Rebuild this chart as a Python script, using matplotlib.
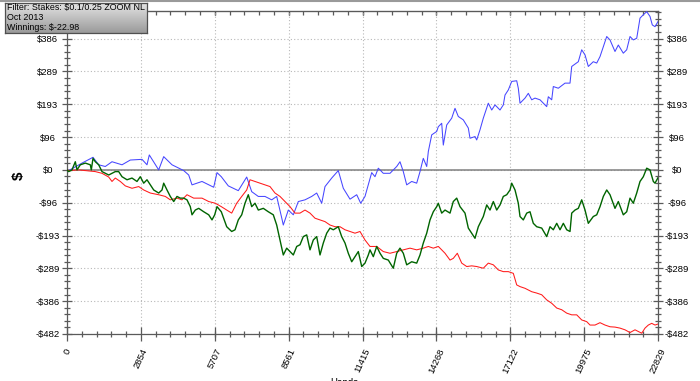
import numpy as np
import matplotlib
matplotlib.use("Agg")
import matplotlib.pyplot as plt
from matplotlib.ticker import AutoMinorLocator, FixedLocator
from matplotlib.lines import Line2D

# --- data (hands, $) ---
blue_hands = [0, 66, 579, 1004, 1225, 1479, 1738, 2125, 2445, 2897, 3090, 3179, 3542, 3735, 4056,
              4508, 4701, 4829, 5215, 5667, 5794, 5960, 6231, 6617, 6942, 7135, 7390, 7648, 7907,
              8100, 8294, 8355, 8549, 8742, 8935, 9193, 9452, 9645, 9839, 9966, 10225, 10480,
              10673, 10932, 11191, 11345, 11511, 11770, 11897, 12025, 12218, 12477, 12736, 12863,
              12991, 13122, 13315, 13508, 13636, 13763, 13895, 13957, 14088, 14281, 14343, 14474,
              14536, 14667, 14860, 14988, 15115, 15308, 15502, 15567, 15760, 15826, 15954, 16081,
              16274, 16406, 16533, 16726, 16854, 16919, 17047, 17178, 17371, 17433, 17499, 17692,
              17820, 17951, 18078, 18271, 18530, 18592, 18723, 18785, 18978, 19237, 19430, 19496,
              19751, 19882, 20010, 20137, 20330, 20462, 20589, 20717, 20848, 20975, 21168, 21296,
              21489, 21620, 21748, 21875, 22007, 22134, 22262, 22393, 22520, 22609, 22714, 22829]
blue_won = [0, -2, 20, 37, 15, 10, 24, 15, 29, 31, 15, 44, 0, 39, 15,
            -2, -15, -44, -34, -51, -8, -20, -47, -61, -21, -64, -78, -78, -88,
            -78, -141, -162, -118, -132, -93, -88, -78, -68, -98, -49, -24, -2,
            -54, -86, -73, -98, -78, -8, -20, 5, -10, -10, 10, 24,
            -5, -44, -34, -39, -5, 34, 10, 54, 103, 113, 127, 137,
            73, 132, 152, 181, 157, 147, 123, 93, 98, 88, 118, 152,
            196, 176, 191, 176, 191, 220, 235, 260, 262, 240, 196, 211,
            225, 206, 211, 206, 186, 215, 206, 245, 240, 255, 255, 304,
            318, 353, 338, 304, 318, 314, 333, 362, 392, 382, 348, 367,
            343, 353, 392, 382, 387, 446, 456, 465, 451, 426, 421, 436]

green_hands = [0, 66, 193, 321, 386, 514, 707, 900, 939, 1004, 1093, 1225, 1352, 1479, 1611, 1738,
               1866, 1997, 2125, 2318, 2511, 2704, 2831, 2963, 3090, 3218, 3349, 3542, 3670, 3735,
               3863, 3990, 4122, 4249, 4377, 4508, 4635, 4763, 4829, 4956, 5087, 5281, 5474, 5601,
               5705, 5794, 5960, 6169, 6362, 6490, 6617, 6749, 6876, 7003, 7135, 7262, 7390, 7583,
               7776, 7969, 8100, 8228, 8355, 8487, 8614, 8742, 8873, 9000, 9128, 9259, 9387, 9514,
               9645, 9773, 9900, 10032, 10159, 10287, 10480, 10611, 10739, 10866, 10998, 11125,
               11253, 11384, 11511, 11639, 11704, 11832, 11963, 12091, 12218, 12411, 12604, 12736,
               12863, 12991, 13122, 13315, 13508, 13636, 13763, 13895, 14022, 14150, 14281, 14343,
               14474, 14602, 14795, 14922, 15054, 15181, 15374, 15502, 15633, 15760, 15888, 16081,
               16213, 16340, 16468, 16599, 16726, 16854, 16985, 17113, 17178, 17306, 17433, 17499,
               17626, 17758, 17885, 18012, 18144, 18337, 18530, 18658, 18785, 18917, 19044, 19172,
               19303, 19430, 19496, 19623, 19751, 19882, 20010, 20137, 20330, 20462, 20589, 20717,
               20848, 20975, 21168, 21296, 21489, 21620, 21748, 21875, 22007, 22134, 22262, 22393,
               22520, 22648, 22714, 22829]
green_won = [0, -5, 0, 24, 0, 15, 20, 15, 0, 34, 24, 15, -5, -10, -15, -10,
             -5, -5, -20, -29, -24, -34, -20, -39, -29, -44, -59, -68, -59, -39,
             -59, -78, -93, -78, -83, -83, -88, -108, -132, -118, -113, -123, -132, -147,
             -132, -108, -123, -167, -181, -176, -147, -132, -98, -73, -108, -98, -118, -113,
             -123, -132, -162, -206, -250, -230, -240, -250, -225, -220, -196, -191, -235, -206,
             -196, -250, -215, -186, -171, -176, -167, -196, -215, -245, -270, -255,
             -240, -284, -274, -250, -235, -255, -225, -245, -260, -265, -289, -245,
             -230, -245, -279, -270, -274, -250, -215, -186, -147, -123, -108, -98,
             -127, -118, -127, -93, -83, -108, -127, -171, -186, -201, -167, -137,
             -103, -118, -93, -118, -103, -78, -73, -59, -39, -59, -98, -137,
             -147, -127, -123, -157, -167, -171, -196, -167, -176, -157, -176, -157,
             -176, -181, -127, -118, -113, -88, -118, -157, -137, -132, -108, -78,
             -59, -73, -113, -93, -132, -123, -83, -98, -68, -34, -20, 5,
             0, -34, -39, -22.98]

red_hands = [0, 66, 452, 838, 1093, 1352, 1611, 1738, 1866, 2059, 2252, 2511, 2770, 2963, 3218,
             3542, 3797, 3990, 4249, 4442, 4635, 4894, 5215, 5474, 5729, 5960, 6169, 6362, 6555,
             6749, 6942, 7069, 7262, 7455, 7648, 7842, 8035, 8228, 8421, 8614, 8807, 9000, 9193,
             9387, 9580, 9773, 9966, 10159, 10352, 10545, 10739, 10932, 11125, 11318, 11511,
             11704, 11963, 12218, 12477, 12736, 12991, 13250, 13508, 13763, 13957, 14150, 14343,
             14474, 14602, 14795, 14922, 15077, 15247, 15440, 15633, 15826, 16081, 16274, 16468,
             16661, 16854, 17047, 17240, 17371, 17499, 17692, 17951, 18144, 18337, 18530, 18723,
             18917, 19110, 19303, 19496, 19689, 19882, 20075, 20203, 20396, 20589, 20782, 20975,
             21168, 21361, 21554, 21748, 21941, 22200, 22327, 22455, 22586, 22714, 22829]
red_won = [0, -2, 0, -3, -5, -10, -21, -34, -24, -34, -47, -54, -49, -59, -68,
           -73, -78, -88, -83, -88, -73, -83, -83, -93, -98, -108, -118, -127, -98,
           -78, -59, -29, -34, -39, -44, -49, -68, -78, -93, -108, -127, -127, -118,
           -127, -142, -147, -152, -162, -167, -167, -176, -181, -186, -181, -206,
           -225, -225, -240, -245, -240, -235, -230, -235, -230, -225, -230, -225,
           -235, -245, -265, -260, -245, -274, -284, -282, -284, -289, -274, -279,
           -294, -299, -299, -304, -338, -343, -348, -358, -362, -367, -382, -392,
           -406, -411, -421, -426, -426, -441, -446, -456, -456, -449, -456, -461,
           -462, -465, -470, -478, -470, -480, -465, -456, -451, -456, -453]

x_ticks = [0, 2854, 5707, 8561, 11415, 14268, 17122, 19975, 22829]
y_step = 96.46
y_labels = ["-$482", "-$386", "-$289", "-$193", "-$96", "$0", "$96", "$193", "$289", "$386"]
info_lines = ["Filter: Stakes: $0.1/0.25 ZOOM NL", "Oct 2013", "Winnings: $-22.98"]

plt.rcParams['font.family'] = ['Liberation Sans', 'DejaVu Sans']

fig = plt.figure(figsize=(7.0, 3.81), dpi=100)
ax = fig.add_axes([67 / 700, 1 - 334 / 381, 591 / 700, 323 / 381])

axis_col = '#5a5a5a'
ax.grid(True, which='major', linestyle=(0, (1, 2)), color='#b8b8b8', linewidth=0.8)
ax.axhline(0, color='#808080', linewidth=1.1, zorder=2)

ax.plot(blue_hands, blue_won, color='#4646ff', linewidth=0.75, zorder=3)
ax.plot(red_hands, red_won, color='#ff1a1a', linewidth=0.75, zorder=3)
ax.plot(green_hands, green_won, color='#006400', linewidth=1.0, zorder=4)

ax.set_xlim(0, 22829)
ax.set_ylim(-5 * y_step, 467)

ax.xaxis.set_major_locator(FixedLocator(x_ticks))
ax.xaxis.set_minor_locator(AutoMinorLocator(5))
ax.set_xticklabels([str(v) for v in x_ticks], rotation=65, fontsize=6.8)

y_pos = y_step * np.arange(-5, 5)
ax.yaxis.set_major_locator(FixedLocator(y_pos))
ax.yaxis.set_minor_locator(AutoMinorLocator(5))
ax.set_yticklabels(y_labels, fontsize=6.8)

for side in ['left', 'right', 'top', 'bottom']:
    ax.spines[side].set_color(axis_col)
    ax.spines[side].set_linewidth(0.9)

ax.tick_params(axis='x', which='major', direction='inout', length=9.5, width=0.9,
               color=axis_col, pad=4.5, top=False)
ax.tick_params(axis='x', which='minor', direction='inout', length=5, width=0.9,
               color=axis_col, top=False)
ax.tick_params(axis='y', which='major', direction='inout', length=7.5, width=0.9,
               color=axis_col, pad=10, right=True, labelright=True)
ax.tick_params(axis='y', which='minor', direction='inout', length=4.5, width=0.9,
               color=axis_col, right=True)

# short inward ticks along the top edge
top = ax.secondary_xaxis('top')
top.xaxis.set_major_locator(FixedLocator(x_ticks))
top.xaxis.set_minor_locator(AutoMinorLocator(5))
top.tick_params(which='both', direction='in', length=3, width=0.9, color=axis_col,
                labeltop=False)
top.spines['top'].set_color(axis_col)

for t in ax.yaxis.get_major_ticks():
    t.label1.set_horizontalalignment('center')
    t.label2.set_horizontalalignment('center')

ax.set_ylabel('$', fontsize=11, fontweight='bold')
ax.yaxis.set_label_coords(-0.07, 0.49)
ax.set_xlabel('Hands', fontsize=7)
ax.xaxis.set_label_coords(0.47, -0.135)

# info box with gradient
box = fig.add_axes([5 / 700, 1 - 33 / 381, 142 / 700, 30 / 381], zorder=10)
grad = np.linspace(0, 1, 64).reshape(-1, 1)
box.imshow(grad, aspect='auto', cmap=matplotlib.colors.LinearSegmentedColormap.from_list(
    'g', ['#e4e4e4', '#9a9a9a']), extent=[0, 1, 0, 1], origin='upper')
box.set_xticks([])
box.set_yticks([])
for s in box.spines.values():
    s.set_color('#505050')
    s.set_linewidth(0.9)
for i, line in enumerate(info_lines):
    box.text(0.015, 0.84 - i * 0.33, line, fontsize=6.4, va='center', ha='left',
             transform=box.transAxes)

fig.add_artist(Line2D([0, 1], [0.998, 0.998], transform=fig.transFigure,
                      color='#9a9a9a', linewidth=1.5))

fig.savefig('out.png', dpi=100)
